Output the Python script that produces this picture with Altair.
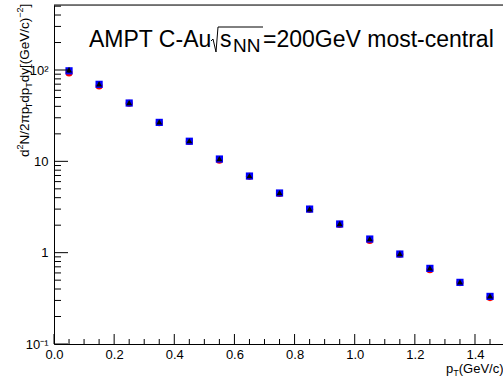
import altair as alt
import pandas as pd
import numpy as np

# ---- data ----
pt = [0.05, 0.15, 0.25, 0.35, 0.45, 0.55, 0.65, 0.75, 0.85, 0.95, 1.05, 1.15, 1.25, 1.35, 1.45]
blue = [98.0, 69.7, 43.5, 26.7, 16.6, 10.6, 6.9, 4.5, 3.0, 2.06, 1.41, 0.966, 0.673, 0.473, 0.332]
red = [93.0, 66.8, 43.2, 26.5, 16.5, 10.3, 6.85, 4.45, 2.98, 2.04, 1.36, 0.96, 0.65, 0.47, 0.322]
black = [100.0, 70.5, 44.0, 27.0, 16.8, 10.7, 6.95, 4.55, 3.02, 2.08, 1.42, 0.975, 0.68, 0.478, 0.336]
black_err = [7.0, 3.5, 1.8, 0.95, 0.5, 0.3, 0.18, 0.11, 0.065, 0.042, 0.028, 0.019, 0.013, 0.009, 0.0065]

x_ticks = [0, 0.2, 0.4, 0.6, 0.8, 1.0, 1.2, 1.4]
y_ticks = [0.1, 1, 10, 100]

FONT = "Liberation Sans"
W, H = 449, 339
XMAX = 449 / 300.71
YMAX = 10 ** (-1 + 339 / 91.33)

xs = alt.Scale(domain=[0, XMAX], nice=False, zero=False)
ys = alt.Scale(type="log", domain=[0.1, YMAX], nice=False)

xax = alt.Axis(values=x_ticks, title=None, tickSize=0, labelPadding=4, labelFontSize=13, labelFont=FONT,
               labelColor="black", domainColor="black", grid=False, labelFlush=False, ticks=False)
yax = alt.Axis(values=y_ticks, title=None, tickSize=0, labelPadding=6, labelFontSize=13, labelFont=FONT,
               labelColor="black", domainColor="black", grid=False, ticks=False,
               labelExpr="datum.value == 100 ? '10²' : datum.value == 10 ? '10' : datum.value == 1 ? '1' : '10⁻¹'")

df = pd.DataFrame({"pt": pt, "blue": blue, "red": red, "black": black,
                   "lo": [b - e for b, e in zip(black, black_err)],
                   "hi": [b + e for b, e in zip(black, black_err)]})

base = alt.Chart(df)

red_pts = base.mark_point(shape="circle", filled=True, size=50, color="#ff0000", opacity=1).encode(
    x=alt.X("pt:Q", scale=xs, axis=xax), y=alt.Y("red:Q", scale=ys, axis=yax))
blue_pts = base.mark_point(shape="square", filled=True, size=52, color="#0000ff", opacity=1).encode(
    x=alt.X("pt:Q", scale=xs, axis=xax), y=alt.Y("blue:Q", scale=ys, axis=yax))
err = base.mark_rule(color="black", strokeWidth=1).encode(
    x=alt.X("pt:Q", scale=xs, axis=xax), y=alt.Y("lo:Q", scale=ys, axis=yax), y2="hi:Q")
black_pts = base.mark_point(shape="triangle-up", filled=True, size=36, color="black", opacity=1).encode(
    x=alt.X("pt:Q", scale=xs, axis=xax), y=alt.Y("black:Q", scale=ys, axis=yax))

# ---- ROOT-style inner ticks ----
xmaj = pd.DataFrame({"t": x_ticks})
xmin = pd.DataFrame({"t": [round(v, 2) for v in np.arange(0.05, 1.50, 0.05) if abs(v / 0.2 - round(v / 0.2)) > 1e-6]})
ymaj = pd.DataFrame({"t": y_ticks})
ymin_vals = []
for d in [0.1, 1, 10, 100]:
    for m in range(2, 10):
        v = d * m
        if v <= YMAX:
            ymin_vals.append(v)
ymin = pd.DataFrame({"t": ymin_vals})

tick_xmaj = alt.Chart(xmaj).mark_rule(color="black").encode(
    x=alt.X("t:Q", scale=xs, axis=xax), y=alt.value(H), y2=alt.value(H - 10))
tick_xmin = alt.Chart(xmin).mark_rule(color="black").encode(
    x=alt.X("t:Q", scale=xs, axis=xax), y=alt.value(H), y2=alt.value(H - 5))
tick_ymaj = alt.Chart(ymaj).mark_rule(color="black").encode(
    y=alt.Y("t:Q", scale=ys, axis=yax), x=alt.value(0), x2=alt.value(14))
tick_ymin = alt.Chart(ymin).mark_rule(color="black").encode(
    y=alt.Y("t:Q", scale=ys, axis=yax), x=alt.value(0), x2=alt.value(7))
top_frame = alt.Chart(pd.DataFrame({"a": [0]})).mark_rule(color="black").encode(
    x=alt.value(0), x2=alt.value(W), y=alt.value(0))

# ---- text helpers ----
WID = {'d': .556, 'N': .722, '/': .278, '2': .556, 'π': .573, 'p': .556, 'T': .611, 'y': .5,
       '[': .278, '(': .333, 'G': .778, 'e': .556, 'V': .667, 'c': .5, ')': .333, ']': .278, '−': .584}


def tw(s, fs):
    return sum(WID.get(c, .556) for c in s) * fs


def txt(s, x, y, fs, angle=0, align="left"):
    kw = dict(align=align, baseline="alphabetic", font=FONT, fontSize=fs, color="black")
    if angle:
        kw["angle"] = angle
    return alt.Chart(pd.DataFrame({"s": [s]})).mark_text(**kw).encode(
        text="s:N", x=alt.value(x), y=alt.value(y))


def seg(x1, y1, x2, y2):
    return alt.Chart(pd.DataFrame({"a": [0]})).mark_rule(color="black", strokeWidth=1).encode(
        x=alt.value(x1 - OX), y=alt.value(y1 - OY), x2=alt.value(x2 - OX), y2=alt.value(y2 - OY))


OX, OY = 54, 5  # view origin in page pixels
texts = []
# title
texts.append(txt("AMPT C-Au", 89 - OX, 47 - OY, 23))
texts.append(txt("s", 220 - OX, 47 - OY, 23))
texts.append(txt("NN", 233 - OX, 52 - OY, 19))
texts.append(txt("=200GeV most-central", 263 - OX, 47 - OY, 23))
sqrt_sign = [seg(211, 41, 213, 39), seg(213, 39, 216, 52), seg(216, 52, 218, 27), seg(218, 27, 263, 27)]

# y title (rotated, reading upward)
ypieces = [("d", 13.5, 0), ("2", 9, -6), ("N/2πp", 13.5, 0), ("T", 9, 3), ("dp", 13.5, 0), ("T", 9, 3),
           ("dy[(GeV/c)", 13.5, 0), ("−2", 9, -6), ("]", 13.5, 0)]
yy = 157.0
bx = 29
for s, fs, sh in ypieces:
    texts.append(txt(s, bx + sh - OX, yy - OY, fs, angle=270))
    yy -= tw(s, fs)

# x title
xx = 446.0
for s, fs, sh in [("p", 13, 0), ("T", 9, 3), ("(GeV/c)", 13, 0)]:
    texts.append(txt(s, xx - OX, 373 + sh - OY, fs))
    xx += tw(s, fs)

chart = alt.layer(red_pts, blue_pts, err, black_pts, tick_xmaj, tick_xmin, tick_ymaj, tick_ymin,
                  top_frame, *sqrt_sign, *texts).properties(
    width=W, height=H, autosize="none",
    padding={"left": 54, "top": 5, "right": 0, "bottom": 34},
).configure_view(stroke=None).configure(background="white")

chart.save("out.html", embed_options={"renderer": "svg", "actions": False})
